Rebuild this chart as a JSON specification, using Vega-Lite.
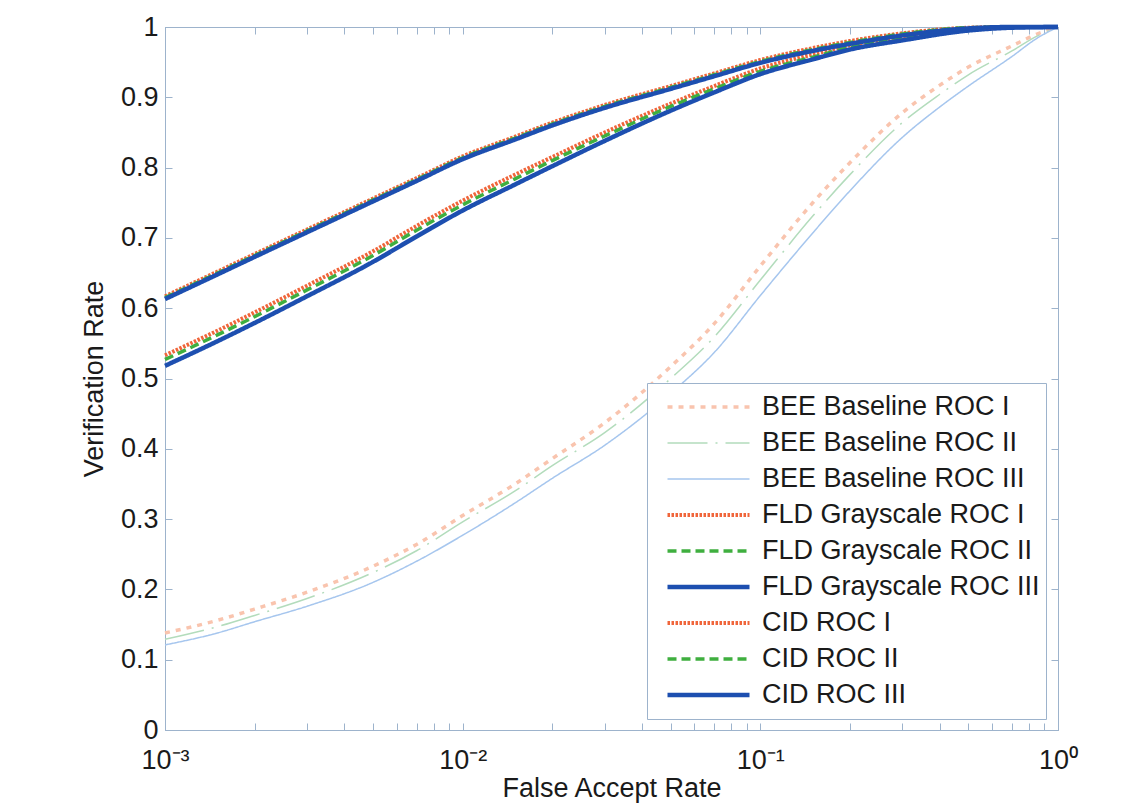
{
  "$schema": "https://vega.github.io/schema/vega-lite/v6.json",
  "width": 893,
  "height": 703,
  "autosize": {"type": "none"},
  "padding": {"left": 165, "top": 27, "right": 80, "bottom": 80},
  "background": "white",
  "config": {
    "view": {"stroke": "#9db3cc", "strokeWidth": 1},
    "font": "Liberation Sans",
    "axis": {"grid": false, "domainColor": "#9db3cc", "tickColor": "#9db3cc", "labelColor": "#1a1a1a", "titleColor": "#1a1a1a", "labelFont": "Liberation Sans", "titleFont": "Liberation Sans", "titleFontWeight": "normal", "labelFontSize": 27, "titleFontSize": 27}
  },
  "data": {"values": [
    {"s":"BEE Baseline ROC I","x":0.001,"y":0.138},{"s":"BEE Baseline ROC I","x":0.0015,"y":0.156},{"s":"BEE Baseline ROC I","x":0.002,"y":0.172},{"s":"BEE Baseline ROC I","x":0.003,"y":0.196},{"s":"BEE Baseline ROC I","x":0.005,"y":0.233},{"s":"BEE Baseline ROC I","x":0.007,"y":0.264},{"s":"BEE Baseline ROC I","x":0.01,"y":0.305},{"s":"BEE Baseline ROC I","x":0.015,"y":0.35},{"s":"BEE Baseline ROC I","x":0.02,"y":0.386},{"s":"BEE Baseline ROC I","x":0.03,"y":0.437},{"s":"BEE Baseline ROC I","x":0.05,"y":0.517},{"s":"BEE Baseline ROC I","x":0.07,"y":0.578},{"s":"BEE Baseline ROC I","x":0.1,"y":0.66},{"s":"BEE Baseline ROC I","x":0.15,"y":0.75},{"s":"BEE Baseline ROC I","x":0.2,"y":0.807},{"s":"BEE Baseline ROC I","x":0.3,"y":0.878},{"s":"BEE Baseline ROC I","x":0.4,"y":0.917},{"s":"BEE Baseline ROC I","x":0.5,"y":0.943},{"s":"BEE Baseline ROC I","x":0.7,"y":0.973},{"s":"BEE Baseline ROC I","x":0.85,"y":0.99},{"s":"BEE Baseline ROC I","x":1,"y":1.0},
    {"s":"BEE Baseline ROC II","x":0.001,"y":0.129},{"s":"BEE Baseline ROC II","x":0.0015,"y":0.147},{"s":"BEE Baseline ROC II","x":0.002,"y":0.163},{"s":"BEE Baseline ROC II","x":0.003,"y":0.187},{"s":"BEE Baseline ROC II","x":0.005,"y":0.224},{"s":"BEE Baseline ROC II","x":0.007,"y":0.255},{"s":"BEE Baseline ROC II","x":0.01,"y":0.296},{"s":"BEE Baseline ROC II","x":0.015,"y":0.34},{"s":"BEE Baseline ROC II","x":0.02,"y":0.376},{"s":"BEE Baseline ROC II","x":0.03,"y":0.423},{"s":"BEE Baseline ROC II","x":0.05,"y":0.5},{"s":"BEE Baseline ROC II","x":0.07,"y":0.559},{"s":"BEE Baseline ROC II","x":0.1,"y":0.64},{"s":"BEE Baseline ROC II","x":0.15,"y":0.731},{"s":"BEE Baseline ROC II","x":0.2,"y":0.79},{"s":"BEE Baseline ROC II","x":0.3,"y":0.864},{"s":"BEE Baseline ROC II","x":0.4,"y":0.904},{"s":"BEE Baseline ROC II","x":0.5,"y":0.932},{"s":"BEE Baseline ROC II","x":0.7,"y":0.966},{"s":"BEE Baseline ROC II","x":0.85,"y":0.987},{"s":"BEE Baseline ROC II","x":1,"y":1.0},
    {"s":"BEE Baseline ROC III","x":0.001,"y":0.121},{"s":"BEE Baseline ROC III","x":0.0015,"y":0.138},{"s":"BEE Baseline ROC III","x":0.002,"y":0.154},{"s":"BEE Baseline ROC III","x":0.003,"y":0.176},{"s":"BEE Baseline ROC III","x":0.005,"y":0.21},{"s":"BEE Baseline ROC III","x":0.007,"y":0.24},{"s":"BEE Baseline ROC III","x":0.01,"y":0.277},{"s":"BEE Baseline ROC III","x":0.015,"y":0.323},{"s":"BEE Baseline ROC III","x":0.02,"y":0.358},{"s":"BEE Baseline ROC III","x":0.03,"y":0.405},{"s":"BEE Baseline ROC III","x":0.05,"y":0.479},{"s":"BEE Baseline ROC III","x":0.07,"y":0.537},{"s":"BEE Baseline ROC III","x":0.1,"y":0.618},{"s":"BEE Baseline ROC III","x":0.15,"y":0.707},{"s":"BEE Baseline ROC III","x":0.2,"y":0.767},{"s":"BEE Baseline ROC III","x":0.3,"y":0.843},{"s":"BEE Baseline ROC III","x":0.4,"y":0.886},{"s":"BEE Baseline ROC III","x":0.5,"y":0.916},{"s":"BEE Baseline ROC III","x":0.7,"y":0.958},{"s":"BEE Baseline ROC III","x":0.85,"y":0.984},{"s":"BEE Baseline ROC III","x":1,"y":1.0},
    {"s":"FLD Grayscale ROC I","x":0.001,"y":0.533},{"s":"FLD Grayscale ROC I","x":0.0015,"y":0.568},{"s":"FLD Grayscale ROC I","x":0.002,"y":0.594},{"s":"FLD Grayscale ROC I","x":0.003,"y":0.632},{"s":"FLD Grayscale ROC I","x":0.005,"y":0.681},{"s":"FLD Grayscale ROC I","x":0.007,"y":0.717},{"s":"FLD Grayscale ROC I","x":0.01,"y":0.753},{"s":"FLD Grayscale ROC I","x":0.015,"y":0.79},{"s":"FLD Grayscale ROC I","x":0.02,"y":0.815},{"s":"FLD Grayscale ROC I","x":0.03,"y":0.85},{"s":"FLD Grayscale ROC I","x":0.05,"y":0.891},{"s":"FLD Grayscale ROC I","x":0.07,"y":0.916},{"s":"FLD Grayscale ROC I","x":0.1,"y":0.941},{"s":"FLD Grayscale ROC I","x":0.15,"y":0.961},{"s":"FLD Grayscale ROC I","x":0.2,"y":0.974},{"s":"FLD Grayscale ROC I","x":0.3,"y":0.985},{"s":"FLD Grayscale ROC I","x":0.5,"y":0.997},{"s":"FLD Grayscale ROC I","x":0.7,"y":1.0},{"s":"FLD Grayscale ROC I","x":1,"y":1.0},
    {"s":"FLD Grayscale ROC II","x":0.001,"y":0.527},{"s":"FLD Grayscale ROC II","x":0.0015,"y":0.562},{"s":"FLD Grayscale ROC II","x":0.002,"y":0.588},{"s":"FLD Grayscale ROC II","x":0.003,"y":0.626},{"s":"FLD Grayscale ROC II","x":0.005,"y":0.675},{"s":"FLD Grayscale ROC II","x":0.007,"y":0.711},{"s":"FLD Grayscale ROC II","x":0.01,"y":0.747},{"s":"FLD Grayscale ROC II","x":0.015,"y":0.784},{"s":"FLD Grayscale ROC II","x":0.02,"y":0.81},{"s":"FLD Grayscale ROC II","x":0.03,"y":0.845},{"s":"FLD Grayscale ROC II","x":0.05,"y":0.887},{"s":"FLD Grayscale ROC II","x":0.07,"y":0.912},{"s":"FLD Grayscale ROC II","x":0.1,"y":0.937},{"s":"FLD Grayscale ROC II","x":0.15,"y":0.957},{"s":"FLD Grayscale ROC II","x":0.2,"y":0.971},{"s":"FLD Grayscale ROC II","x":0.3,"y":0.983},{"s":"FLD Grayscale ROC II","x":0.5,"y":0.996},{"s":"FLD Grayscale ROC II","x":0.7,"y":1.0},{"s":"FLD Grayscale ROC II","x":1,"y":1.0},
    {"s":"FLD Grayscale ROC III","x":0.001,"y":0.518},{"s":"FLD Grayscale ROC III","x":0.0015,"y":0.553},{"s":"FLD Grayscale ROC III","x":0.002,"y":0.579},{"s":"FLD Grayscale ROC III","x":0.003,"y":0.617},{"s":"FLD Grayscale ROC III","x":0.005,"y":0.666},{"s":"FLD Grayscale ROC III","x":0.007,"y":0.702},{"s":"FLD Grayscale ROC III","x":0.01,"y":0.739},{"s":"FLD Grayscale ROC III","x":0.015,"y":0.776},{"s":"FLD Grayscale ROC III","x":0.02,"y":0.802},{"s":"FLD Grayscale ROC III","x":0.03,"y":0.838},{"s":"FLD Grayscale ROC III","x":0.05,"y":0.881},{"s":"FLD Grayscale ROC III","x":0.07,"y":0.907},{"s":"FLD Grayscale ROC III","x":0.1,"y":0.933},{"s":"FLD Grayscale ROC III","x":0.15,"y":0.954},{"s":"FLD Grayscale ROC III","x":0.2,"y":0.968},{"s":"FLD Grayscale ROC III","x":0.3,"y":0.981},{"s":"FLD Grayscale ROC III","x":0.5,"y":0.995},{"s":"FLD Grayscale ROC III","x":0.7,"y":0.999},{"s":"FLD Grayscale ROC III","x":1,"y":1.0},
    {"s":"CID ROC I","x":0.001,"y":0.617},{"s":"CID ROC I","x":0.0015,"y":0.652},{"s":"CID ROC I","x":0.002,"y":0.677},{"s":"CID ROC I","x":0.003,"y":0.712},{"s":"CID ROC I","x":0.005,"y":0.756},{"s":"CID ROC I","x":0.007,"y":0.785},{"s":"CID ROC I","x":0.01,"y":0.816},{"s":"CID ROC I","x":0.015,"y":0.844},{"s":"CID ROC I","x":0.02,"y":0.864},{"s":"CID ROC I","x":0.03,"y":0.889},{"s":"CID ROC I","x":0.05,"y":0.916},{"s":"CID ROC I","x":0.07,"y":0.934},{"s":"CID ROC I","x":0.1,"y":0.953},{"s":"CID ROC I","x":0.15,"y":0.97},{"s":"CID ROC I","x":0.2,"y":0.98},{"s":"CID ROC I","x":0.3,"y":0.991},{"s":"CID ROC I","x":0.5,"y":0.999},{"s":"CID ROC I","x":0.7,"y":1.0},{"s":"CID ROC I","x":1,"y":1.0},
    {"s":"CID ROC II","x":0.001,"y":0.615},{"s":"CID ROC II","x":0.0015,"y":0.65},{"s":"CID ROC II","x":0.002,"y":0.675},{"s":"CID ROC II","x":0.003,"y":0.71},{"s":"CID ROC II","x":0.005,"y":0.754},{"s":"CID ROC II","x":0.007,"y":0.783},{"s":"CID ROC II","x":0.01,"y":0.814},{"s":"CID ROC II","x":0.015,"y":0.842},{"s":"CID ROC II","x":0.02,"y":0.862},{"s":"CID ROC II","x":0.03,"y":0.887},{"s":"CID ROC II","x":0.05,"y":0.914},{"s":"CID ROC II","x":0.07,"y":0.932},{"s":"CID ROC II","x":0.1,"y":0.951},{"s":"CID ROC II","x":0.15,"y":0.968},{"s":"CID ROC II","x":0.2,"y":0.978},{"s":"CID ROC II","x":0.3,"y":0.99},{"s":"CID ROC II","x":0.5,"y":0.999},{"s":"CID ROC II","x":0.7,"y":1.0},{"s":"CID ROC II","x":1,"y":1.0},
    {"s":"CID ROC III","x":0.001,"y":0.613},{"s":"CID ROC III","x":0.0015,"y":0.648},{"s":"CID ROC III","x":0.002,"y":0.673},{"s":"CID ROC III","x":0.003,"y":0.708},{"s":"CID ROC III","x":0.005,"y":0.752},{"s":"CID ROC III","x":0.007,"y":0.781},{"s":"CID ROC III","x":0.01,"y":0.812},{"s":"CID ROC III","x":0.015,"y":0.84},{"s":"CID ROC III","x":0.02,"y":0.86},{"s":"CID ROC III","x":0.03,"y":0.885},{"s":"CID ROC III","x":0.05,"y":0.912},{"s":"CID ROC III","x":0.07,"y":0.93},{"s":"CID ROC III","x":0.1,"y":0.949},{"s":"CID ROC III","x":0.15,"y":0.966},{"s":"CID ROC III","x":0.2,"y":0.976},{"s":"CID ROC III","x":0.3,"y":0.988},{"s":"CID ROC III","x":0.5,"y":0.998},{"s":"CID ROC III","x":0.7,"y":1.0},{"s":"CID ROC III","x":1,"y":1.0}
  ]},
  "layer": [
    {
      "mark": {"type": "line", "strokeCap": "butt", "interpolate": "monotone"},
      "encoding": {
        "x": {"field": "x", "type": "quantitative", "scale": {"type": "log", "domain": [0.001, 1], "nice": false},
          "axis": {"title": "False Accept Rate", "values": [0.001,0.002,0.003,0.004,0.005,0.006,0.007,0.008,0.009,0.01,0.02,0.03,0.04,0.05,0.06,0.07,0.08,0.09,0.1,0.2,0.3,0.4,0.5,0.6,0.7,0.8,0.9,1],
            "labelExpr": "datum.value == 0.001 ? '10⁻³' : datum.value == 0.01 ? '10⁻²' : datum.value == 0.1 ? '10⁻¹' : datum.value == 1 ? '10⁰' : ''",
            "labelOverlap": false, "labelFlush": false, "tickSize": -7, "labelPadding": 24, "titlePadding": 2}},
        "y": {"field": "y", "type": "quantitative", "scale": {"domain": [0, 1], "nice": false},
          "axis": {"title": "Verification Rate", "values": [0,0.1,0.2,0.3,0.4,0.5,0.6,0.7,0.8,0.9,1], "format": ".1~f", "tickSize": -7, "labelPadding": 14, "titlePadding": 12}},
        "color": {"field": "s", "type": "nominal",
          "scale": {"domain": ["BEE Baseline ROC I","BEE Baseline ROC II","BEE Baseline ROC III","FLD Grayscale ROC I","FLD Grayscale ROC II","FLD Grayscale ROC III","CID ROC I","CID ROC II","CID ROC III"],
            "range": ["#f9c4ae","#b3dcbc","#a6c6ee","#f0653a","#3faf3f","#1d4fb0","#f0653a","#3faf3f","#1d4fb0"]},
          "legend": {"title": null, "orient": "none", "legendX": 482, "legendY": 356, "symbolType": "stroke", "symbolSize": 6724, "labelFontSize": 27, "labelFont": "Liberation Sans", "labelColor": "#1a1a1a", "strokeColor": "#9db3cc", "fillColor": "white", "padding": 6, "rowPadding": 0, "clipHeight": 36, "labelOffset": 10, "symbolOffset": 12, "labelLimit": 400}},
        "strokeDash": {"field": "s", "type": "nominal",
          "scale": {"domain": ["BEE Baseline ROC I","BEE Baseline ROC II","BEE Baseline ROC III","FLD Grayscale ROC I","FLD Grayscale ROC II","FLD Grayscale ROC III","CID ROC I","CID ROC II","CID ROC III"],
            "range": [[5,6],[40,8,2,8],[1,0],[2.5,1.5],[9,5],[1,0],[2.5,1.5],[9,5],[1,0]]}},
        "strokeWidth": {"field": "s", "type": "nominal",
          "scale": {"type": "ordinal", "domain": ["BEE Baseline ROC I","BEE Baseline ROC II","BEE Baseline ROC III","FLD Grayscale ROC I","FLD Grayscale ROC II","FLD Grayscale ROC III","CID ROC I","CID ROC II","CID ROC III"],
            "range": [3.5, 1.5, 1.5, 4, 3.5, 4.5, 4, 3.5, 4.5]}}
      }
    },
    {
      "mark": {"type": "point", "opacity": 0},
      "encoding": {
        "x": {"field": "x", "type": "quantitative", "scale": {"type": "log", "domain": [0.001, 1], "nice": false},
          "axis": {"orient": "top", "title": null, "labels": false, "values": [0.001,0.002,0.003,0.004,0.005,0.006,0.007,0.008,0.009,0.01,0.02,0.03,0.04,0.05,0.06,0.07,0.08,0.09,0.1,0.2,0.3,0.4,0.5,0.6,0.7,0.8,0.9,1], "tickSize": -7}},
        "y": {"field": "y", "type": "quantitative", "scale": {"domain": [0, 1], "nice": false},
          "axis": {"orient": "right", "title": null, "labels": false, "values": [0,0.1,0.2,0.3,0.4,0.5,0.6,0.7,0.8,0.9,1], "tickSize": -7}}
      }
    }
  ],
  "resolve": {"axis": {"x": "independent", "y": "independent"}}
}
